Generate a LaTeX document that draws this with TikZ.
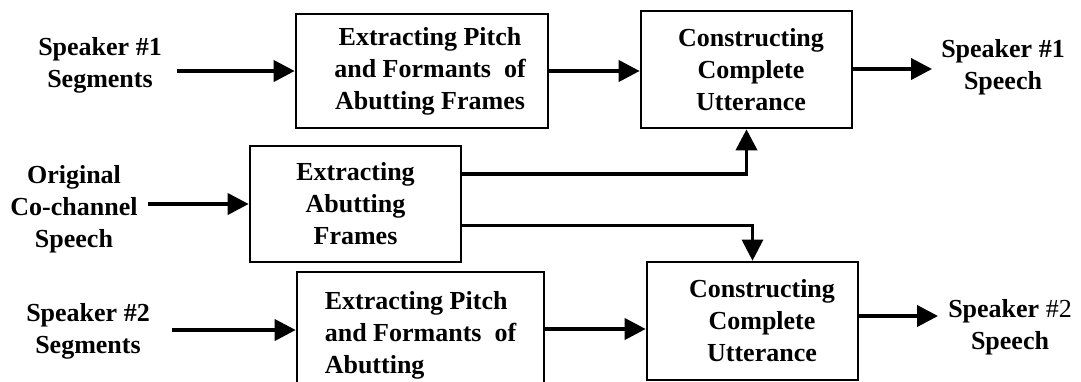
\documentclass[tikz,border=0pt]{standalone}
\usepackage{fontspec}
\setmainfont{Liberation Serif}
\usetikzlibrary{arrows.meta}
\newcommand{\pushr}[1]{\hspace*{#1}}
\begin{document}
\begin{tikzpicture}[x=1pt,y=-1pt,
  font=\fontsize{26}{32}\selectfont\bfseries,
  box/.style={draw, line width=2.6pt, align=center, inner sep=0pt},
  lbl/.style={align=center, inner sep=0pt},
  arr/.style={line width=3.8pt, -{Triangle[length=21pt,width=21pt]}}]
\clip (0,0) rectangle (1081,381);
\fill[white] (0,0) rectangle (1081,381);
% boxes
\node[box, minimum width=252pt, minimum height=114pt] (A) at (422,71) {\pushr{16pt}Extracting Pitch\\\pushr{16pt}and Formants~ of\\\pushr{16pt}Abutting Frames};
\node[box, minimum width=211pt, minimum height=117pt] (B) at (746.5,69.5) {\pushr{9pt}Constructing\\\pushr{9pt}Complete\\\pushr{9pt}Utterance};
\node[box, minimum width=211pt, minimum height=116pt] (C) at (355.5,204) {Extracting\\Abutting\\Frames};
\node[box, align=left, minimum width=247pt, minimum height=126pt] (D) at (420.5,335) {Extracting Pitch\\and Formants~ of\\Abutting};
\node[box, minimum width=211pt, minimum height=118pt] (E) at (752.5,321) {\pushr{19pt}Constructing\\\pushr{19pt}Complete\\\pushr{19pt}Utterance};
% labels
\node[lbl] (s1) at (100,65) {Speaker \#1\\Segments};
\node[lbl] (orig) at (74,209) {Original\\Co-channel\\Speech};
\node[lbl] (s2) at (88,331) {Speaker \#2\\Segments};
\node[lbl] (o1) at (1003,67) {Speaker \#1\\Speech};
\node[lbl] (o2) at (1010,327) {Speaker {\mdseries\#2}\\Speech};
% connectors
\draw[arr] ([xshift=15pt]s1.east |- A.west) -- (A.west);
\draw[arr] (A.east) -- (A.east -| B.west);
\draw[arr] (B.east |- 0,69) -- ([xshift=-9pt]o1.west |- 0,69);
\draw[arr] ([xshift=10pt]orig.east |- C.west) -- (C.west);
\draw[arr] (C.east |- 0,174) -| (B.south);
\draw[arr, line width=3pt] (C.east |- 0,225) -| (E.north);
\draw[arr] ([xshift=22pt]s2.east |- 0,330) -- (D.west |- 0,330);
\draw[arr] (D.east |- 0,329) -- (E.west |- 0,329);
\draw[arr] (E.east |- 0,316) -- ([xshift=-10pt]o2.west |- 0,316);
\end{tikzpicture}
\end{document}
